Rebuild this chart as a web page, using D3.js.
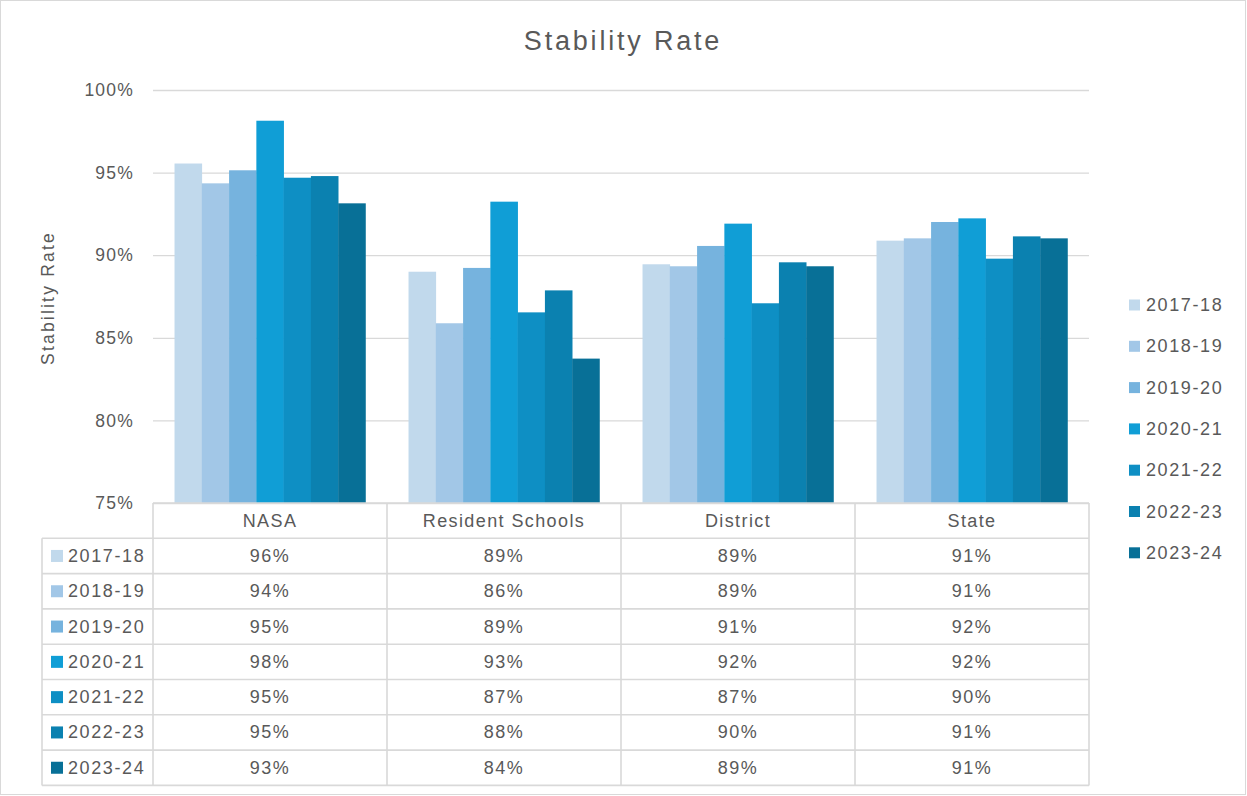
<!DOCTYPE html>
<html>
<head>
<meta charset="utf-8">
<script src="https://cdn.jsdelivr.net/npm/d3@7"></script>
<style>
  body { margin: 0; background: #fff; }
  text { font-family: "Liberation Sans", Arial, sans-serif; fill: #595959; }
</style>
</head>
<body>
<div id="chart"></div>
<script>
// categories along the x axis
var categories = ["NASA", "Resident Schools", "District", "State"];
// school years (series)
var years = ["2017-18", "2018-19", "2019-20", "2020-21", "2021-22", "2022-23", "2023-24"];
// stability rate (%) per year, one value per category
var y2017_18 = [95.55, 89.0, 89.45, 90.88];
var y2018_19 = [94.35, 85.88, 89.33, 91.02];
var y2019_20 = [95.14, 89.23, 90.56, 92.01];
var y2020_21 = [98.14, 93.24, 91.91, 92.23];
var y2021_22 = [94.69, 86.54, 87.09, 89.79];
var y2022_23 = [94.79, 87.87, 89.57, 91.14];
var y2023_24 = [93.14, 83.74, 89.33, 91.02];
var yTicks = [75, 80, 85, 90, 95, 100];
var colors = ["#c1d9ec", "#a2c7e7", "#76b3de", "#109ed6", "#0e8fc4", "#0b81b0", "#087097"];

var seriesValues = [y2017_18, y2018_19, y2019_20, y2020_21, y2021_22, y2022_23, y2023_24];
var series = years.map(function(y, i) {
    return { year: y, color: colors[i], values: seriesValues[i] };
});

var W = 1247, H = 796;
var plot = { left: 153, right: 1089, top: 90, bottom: 503 };
var rowH = 35.3;
var tableLeft = 42;

var svg = d3.select("#chart").append("svg")
    .attr("width", W)
    .attr("height", H);

// outer frame
svg.append("rect")
    .attr("x", 0.5).attr("y", 0.5)
    .attr("width", W - 2).attr("height", H - 2)
    .attr("fill", "#fff")
    .attr("stroke", "#d9d9d9");

var x0 = d3.scaleBand()
    .domain(categories)
    .range([plot.left, plot.right])
    .paddingInner(0.184)
    .paddingOuter(0.092);

var x1 = d3.scaleBand()
    .domain(years)
    .range([0, x0.bandwidth()]);

var y = d3.scaleLinear()
    .domain([75, 100])
    .range([plot.bottom, plot.top]);

// gridlines + tick labels
var yAxis = d3.axisLeft(y)
    .tickValues(yTicks)
    .tickSize(-(plot.right - plot.left))
    .tickPadding(19)
    .tickFormat(function(d) { return d + "%"; });

var gy = svg.append("g")
    .attr("transform", "translate(" + plot.left + ",0)")
    .call(yAxis);
gy.select(".domain").remove();
gy.selectAll(".tick line").attr("stroke", "#d9d9d9").attr("stroke-width", 1.3);
gy.selectAll(".tick text")
    .attr("font-size", 17.5)
    .attr("letter-spacing", "1.2px")
    .style("font-family", "'Liberation Sans', Arial, sans-serif")
    .attr("fill", "#595959");

// title
svg.append("text")
    .attr("x", 623).attr("y", 41)
    .attr("text-anchor", "middle")
    .attr("dominant-baseline", "central")
    .attr("font-size", 27)
    .attr("letter-spacing", "2.8px")
    .text("Stability Rate");

// y axis title
svg.append("text")
    .attr("transform", "translate(48," + 298 + ") rotate(-90)")
    .attr("text-anchor", "middle")
    .attr("dominant-baseline", "central")
    .attr("font-size", 17.5)
    .attr("letter-spacing", "2.2px")
    .text("Stability Rate");

// bars
var groups = svg.append("g").selectAll("g")
    .data(series)
    .enter().append("g")
    .attr("fill", function(d) { return d.color; });

groups.selectAll("rect")
    .data(function(d) {
        return d.values.map(function(v, i) { return { cat: categories[i], year: d.year, value: v }; });
    })
    .enter().append("rect")
    .attr("x", function(d) { return x0(d.cat) + x1(d.year); })
    .attr("y", function(d) { return y(d.value); })
    .attr("width", x1.bandwidth() + 0.3)
    .attr("height", function(d) { return y(75) - y(d.value); });

// data table
var table = svg.append("g").attr("stroke", "#d9d9d9").attr("stroke-width", 1.6);
var tableTop = plot.bottom;
var dataTop = tableTop + rowH;
var tableBottom = dataTop + rowH * years.length;

// horizontal lines
table.append("line")
    .attr("x1", plot.left).attr("x2", plot.right)
    .attr("y1", tableTop).attr("y2", tableTop);
years.concat([""]).forEach(function(d, i) {
    table.append("line")
        .attr("x1", tableLeft).attr("x2", plot.right)
        .attr("y1", dataTop + i * rowH).attr("y2", dataTop + i * rowH);
});
// vertical lines
table.append("line")
    .attr("x1", tableLeft).attr("x2", tableLeft)
    .attr("y1", dataTop).attr("y2", tableBottom);
categories.forEach(function(c) {
    var xl = x0(c) - x0.step() * x0.paddingInner() / 2;
    table.append("line")
        .attr("x1", xl).attr("x2", xl)
        .attr("y1", tableTop).attr("y2", tableBottom);
});
table.append("line")
    .attr("x1", plot.right).attr("x2", plot.right)
    .attr("y1", tableTop).attr("y2", tableBottom);

// header texts
svg.append("g").selectAll("text")
    .data(categories)
    .enter().append("text")
    .attr("x", function(d) { return x0(d) + x0.bandwidth() / 2; })
    .attr("y", tableTop + rowH / 2)
    .attr("text-anchor", "middle")
    .attr("dominant-baseline", "central")
    .attr("font-size", 18)
    .attr("letter-spacing", "1.4px")
    .text(function(d) { return d; });

// rows
var rows = svg.append("g").selectAll("g")
    .data(series)
    .enter().append("g")
    .attr("transform", function(d, i) { return "translate(0," + (dataTop + i * rowH + rowH / 2) + ")"; });

rows.append("rect")
    .attr("x", 51).attr("y", -6)
    .attr("width", 12).attr("height", 12)
    .attr("fill", function(d) { return d.color; });

rows.append("text")
    .attr("x", 68)
    .attr("y", 0)
    .attr("dominant-baseline", "central")
    .attr("font-size", 18)
    .attr("letter-spacing", "1.6px")
    .text(function(d) { return d.year; });

rows.selectAll("text.val")
    .data(function(d) { return d.values; })
    .enter().append("text")
    .attr("class", "val")
    .attr("x", function(d, i) { return x0(categories[i]) + x0.bandwidth() / 2; })
    .attr("y", 0)
    .attr("text-anchor", "middle")
    .attr("dominant-baseline", "central")
    .attr("font-size", 18)
    .attr("letter-spacing", "1.5px")
    .text(function(d) { return Math.round(d) + "%"; });

// legend
var legend = svg.append("g").selectAll("g")
    .data(series)
    .enter().append("g")
    .attr("transform", function(d, i) { return "translate(1129," + (305 + i * 41.3) + ")"; });

legend.append("rect")
    .attr("x", 0).attr("y", -5.5)
    .attr("width", 11).attr("height", 11)
    .attr("fill", function(d) { return d.color; });

legend.append("text")
    .attr("x", 17)
    .attr("y", 0)
    .attr("dominant-baseline", "central")
    .attr("font-size", 18)
    .attr("letter-spacing", "1.6px")
    .text(function(d) { return d.year; });
</script>
</body>
</html>
